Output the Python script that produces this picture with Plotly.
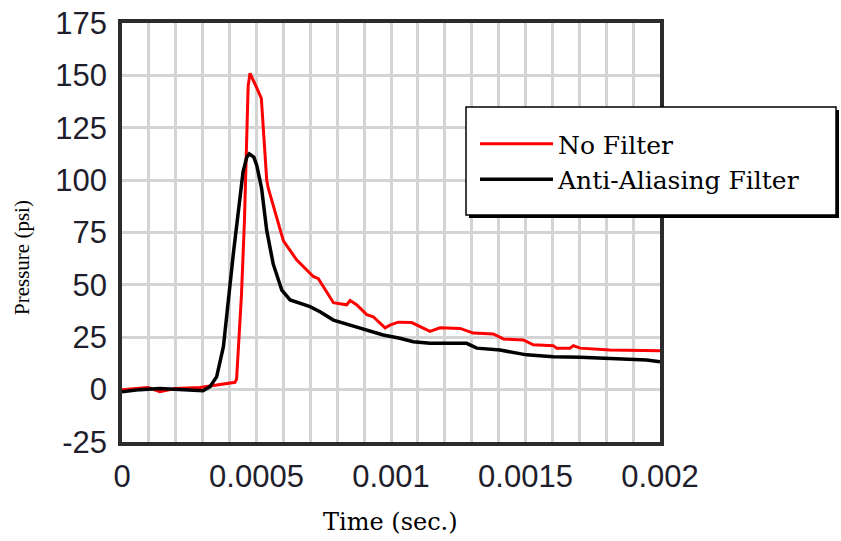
import plotly.graph_objects as go

# ---- data (time in seconds, pressure in psi) ----
no_filter_t = [0, 0.0000483, 0.0000967, 0.000141, 0.000197, 0.000290, 0.000346, 0.000401,
               0.000420, 0.000426, 0.000433, 0.000444, 0.000455, 0.000462, 0.000469, 0.000476,
               0.000488, 0.000501, 0.000518, 0.000525, 0.000538, 0.000544, 0.000557, 0.000600,
               0.000649, 0.000711, 0.000730, 0.000786, 0.000835, 0.000848, 0.000872, 0.000910,
               0.000934, 0.000978, 0.000996, 0.001027, 0.001077, 0.001145, 0.001182, 0.001257,
               0.001306, 0.001380, 0.001418, 0.001492, 0.001529, 0.001603, 0.001616, 0.001665,
               0.001678, 0.001703, 0.001814, 0.001993, 0.002]
no_filter_p = [0, 0.5, 1, -1, 0.5, 1, 2, 3,
               3.5, 5, 20, 45, 80, 120, 145, 151,
               148, 144, 139, 125, 100, 96, 90, 71,
               62, 54, 53, 41.5, 40.5, 42.5, 40.5, 35.8,
               34.8, 29.5, 30.8, 32.2, 32, 27.8, 29.5, 29.2,
               27, 26.6, 24.2, 23.7, 21.4, 21, 19.8, 19.8,
               21, 19.8, 18.9, 18.6, 18.6]

aa_filter_t = [0, 0.0000669, 0.000141, 0.000216, 0.000301, 0.000327, 0.000352, 0.000377,
               0.000395, 0.000414, 0.000439, 0.000450, 0.000464, 0.000473, 0.000490, 0.000501,
               0.000519, 0.000538, 0.000562, 0.000594, 0.000625, 0.000662, 0.000699, 0.000736,
               0.000786, 0.000848, 0.000910, 0.000971, 0.001033, 0.001083, 0.001145, 0.001281,
               0.001319, 0.001405, 0.001504, 0.001603, 0.001703, 0.001826, 0.001950, 0.002]
aa_filter_p = [-1, 0, 0.5, 0, -0.5, 1.4, 6.2, 20.5,
               44, 65, 92, 104, 111, 112.5, 111, 107,
               96, 76, 60, 47.5, 42.8, 41.2, 39.6, 37.2,
               33.2, 30.8, 28.5, 26.1, 24.5, 22.9, 22.1, 22.1,
               19.8, 18.9, 16.6, 15.7, 15.4, 14.6, 14.1, 13.3]

series_names = ["No Filter", "Anti-Aliasing Filter"]
x_tick_vals = [0, 0.0005, 0.001, 0.0015, 0.002]
x_tick_text = ["0", "0.0005", "0.001", "0.0015", "0.002"]
y_tick_vals = [-25, 0, 25, 50, 75, 100, 125, 150, 175]
y_tick_text = ["-25", "0", "25", "50", "75", "100", "125", "150", "175"]
x_title = "Time (sec.)"
y_title = "Pressure (psi)"

# ---- layout geometry ----
W, H = 841, 541
L, R, T, B = 122, 181, 23, 99
PW, PH = W - L - R, H - T - B


def px(x):
    return (x - L) / PW


def py(y):
    return 1 - (y - T) / PH


fig = go.Figure()
fig.add_trace(go.Scatter(x=no_filter_t, y=no_filter_p, mode="lines", name=series_names[0],
                         line=dict(color="#ff0000", width=3)))
fig.add_trace(go.Scatter(x=aa_filter_t, y=aa_filter_p, mode="lines", name=series_names[1],
                         line=dict(color="#000000", width=3.5)))

grid_col = "#d4d4d4"
tick_font = dict(family="Liberation Sans, Arial", size=31, color="#1e1e2c")
fig.update_xaxes(range=[0, 0.002], tickvals=x_tick_vals, ticktext=x_tick_text,
                 showgrid=True, gridcolor=grid_col, gridwidth=3,
                 minor=dict(dtick=0.0001, showgrid=True, gridcolor=grid_col, gridwidth=3),
                 showline=True, linecolor="#2b2b2b", linewidth=3.5, mirror=True,
                 zeroline=False, ticks="", ticklabelstandoff=4,
                 tickfont=tick_font)
fig.update_yaxes(range=[-25, 175], tickvals=y_tick_vals, ticktext=y_tick_text,
                 showgrid=True, gridcolor=grid_col, gridwidth=3,
                 showline=True, linecolor="#2b2b2b", linewidth=3.5, mirror=True,
                 zeroline=False, ticks="", ticklabelstandoff=5,
                 tickfont=tick_font)

# legend box with shadow
fig.add_shape(type="rect", xref="paper", yref="paper",
              x0=px(469), x1=px(839), y0=py(218), y1=py(110),
              fillcolor="#000000", line=dict(width=0), layer="above")
fig.add_shape(type="rect", xref="paper", yref="paper",
              x0=px(466), x1=px(836), y0=py(215), y1=py(107),
              fillcolor="#ffffff", line=dict(color="#000000", width=1.5), layer="above")

fig.update_layout(
    width=W, height=H,
    margin=dict(l=L, r=R, t=T, b=B, autoexpand=False),
    paper_bgcolor="white", plot_bgcolor="white",
    showlegend=True,
    legend=dict(x=px(475), y=py(121), xanchor="left", yanchor="top",
                bgcolor="rgba(0,0,0,0)", borderwidth=0,
                itemwidth=73,
                font=dict(family="DejaVu Serif", size=25, color="#000000"),
                tracegroupgap=0),
    annotations=[
        dict(text=x_title, xref="paper", yref="paper", x=px(390), y=py(522),
             xanchor="center", yanchor="middle", showarrow=False,
             font=dict(family="DejaVu Serif", size=24, color="#000000")),
        dict(text=y_title, xref="paper", yref="paper", x=px(22), y=py(258),
             xanchor="center", yanchor="middle", showarrow=False, textangle=-90,
             font=dict(family="Liberation Serif", size=21, color="#000000")),
    ],
)

fig.write_html("out.html")
